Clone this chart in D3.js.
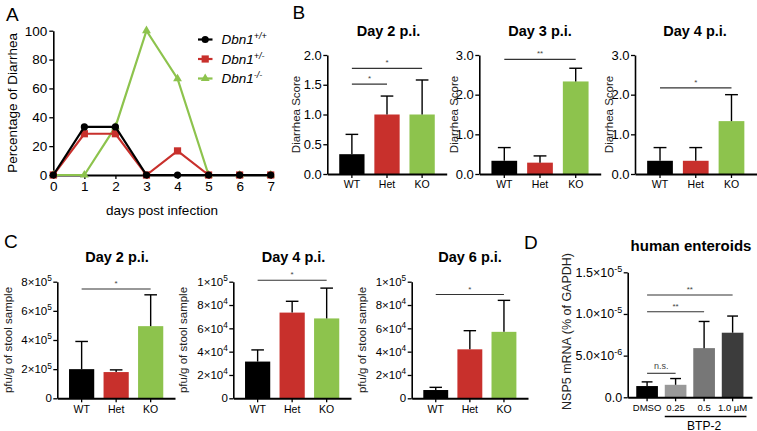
<!DOCTYPE html>
<html><head><meta charset="utf-8">
<script src="https://cdn.jsdelivr.net/npm/d3@7"></script>
<style>
body{margin:0;background:#fff;}
svg{display:block;font-family:"Liberation Sans",Arial,Helvetica,sans-serif;}
</style></head>
<body><svg id="chart" width="757" height="431"></svg>
<script>
// ---------- DATA ----------
// Panel A
const daysA = [0,1,2,3,4,5,6,7];
const pctWT  = [0,33.3,33.3,0,0,0,0,0];
const pctHet = [0,28.6,28.6,0,16.7,0,0,0];
const pctKO  = [0,0,33.3,100,66.7,0,0,0];
const legendA = ["+/+","+/-","-/-"];
const ticksA_y = [0,20,40,60,80,100];

// Panel B (diarrhea score)
const genotypes = ["WT","Het","KO"];
const bDay2Mean = [0.333,1.0,1.0];
const bDay2Err  = [0.333,0.31,0.58];
const bDay3Mean = [0.333,0.286,2.333];
const bDay3Err  = [0.333,0.17,0.333];
const bDay4Mean = [0.333,0.333,1.333];
const bDay4Err  = [0.333,0.333,0.667];

// Panel C (pfu/g of stool)
const cDay2Mean = [2.0e5,1.8e5,4.95e5];
const cDay2Err  = [1.9e5,0.15e5,2.15e5];
const cDay4Mean = [3.15e4,7.35e4,6.85e4];
const cDay4Err  = [1.0e4,0.97e4,2.6e4];
const cDay6Mean = [7.1e3,4.2e4,5.7e4];
const cDay6Err  = [2.3e3,1.6e4,2.7e4];

// Panel D (human enteroids)
const dCats = ["DMSO","0.25","0.5","1.0\u00a0\u00b5M"];
const dMean = [1.35e-6,1.5e-6,5.9e-6,7.75e-6];
const dErr  = [0.5e-6,0.75e-6,3.2e-6,2.0e-6];

const colWT="#000000", colHet="#c8302c", colKO="#8dc34d";
const genoColors=[colWT,colHet,colKO];
const dColors=["#000000","#999999","#777777","#3c3c3c"];

// ---------- DRAW ----------
const svg=d3.select("#chart");

function panelLetter(t,x,y){
  svg.append("text").attr("x",x).attr("y",y).attr("font-size",19).text(t);
}
function styleAxis(g,fs){
  g.selectAll("path.domain").attr("stroke","#000").attr("stroke-width",1.6);
  g.selectAll(".tick line").attr("stroke","#000").attr("stroke-width",1.3);
  g.selectAll(".tick text").attr("font-size",fs).attr("fill","#000")
   .attr("font-family","'Liberation Sans',Arial,sans-serif");
}

// ===== Panel A =====
panelLetter("A",6,21);
const xA=d3.scaleLinear().domain([0,7]).range([53.3,270.7]);
const yA=d3.scaleLinear().domain([0,100]).range([175,30.7]);
const gAy=svg.append("g").attr("transform",`translate(${xA(0)},0)`)
  .call(d3.axisLeft(yA).tickValues(ticksA_y).tickSize(4).tickSizeOuter(0).tickPadding(2));
styleAxis(gAy,13.5);
const gAx=svg.append("g").attr("transform",`translate(0,${yA(0)})`)
  .call(d3.axisBottom(xA).tickValues(daysA).tickFormat(d3.format("d")).tickSize(4).tickSizeOuter(0).tickPadding(2));
styleAxis(gAx,13.5);
gAx.select("path.domain").attr("stroke-width",2.2);

svg.append("text").attr("transform",`translate(17,${(yA(0)+yA(100))/2}) rotate(-90)`)
  .attr("text-anchor","middle").attr("font-size",13.5).text("Percentage of Diarrhea");
svg.append("text").attr("x",162).attr("y",215).attr("text-anchor","middle")
  .attr("font-size",13.5).text("days post infection");

const seriesA=[
  {vals:pctKO,color:colKO,shape:"tri"},
  {vals:pctHet,color:colHet,shape:"sq"},
  {vals:pctWT,color:colWT,shape:"circ"}
];
const lineA=d3.line().x((d,i)=>xA(daysA[i])).y(d=>yA(d));
function marker(g,shape,x,y,color){
  if(shape==="circ") g.append("circle").attr("cx",x).attr("cy",y).attr("r",3.6).attr("fill",color);
  else if(shape==="sq") g.append("rect").attr("x",x-3.6).attr("y",y-3.6).attr("width",7.2).attr("height",7.2).attr("fill",color);
  else g.append("path").attr("d",d3.symbol(d3.symbolTriangle,34)()).attr("transform",`translate(${x},${y})`).attr("fill",color);
}
seriesA.forEach(s=>{
  const g=svg.append("g");
  g.append("path").attr("d",lineA(s.vals)).attr("fill","none").attr("stroke",s.color).attr("stroke-width",2.2);
  s.vals.forEach((v,i)=>marker(g,s.shape,xA(daysA[i]),yA(v),s.color));
});
// legend
const legItems=[{c:colWT,s:"circ"},{c:colHet,s:"sq"},{c:colKO,s:"tri"}];
legItems.forEach((it,i)=>{
  const y=39.5+i*19.5;
  const g=svg.append("g");
  g.append("line").attr("x1",198).attr("x2",212.5).attr("y1",y).attr("y2",y).attr("stroke",it.c).attr("stroke-width",2.2);
  marker(g,it.s,205.2,y,it.c);
  const t=g.append("text").attr("x",221.5).attr("y",y+4.5).attr("font-size",13.5).attr("font-style","italic");
  t.append("tspan").text("Dbn1");
  t.append("tspan").attr("dy",-5).attr("font-size",9).text(legendA[i]);
});

// ===== Generic bar panel =====
function barPanel(o){
  const x=d3.scaleBand().domain(o.cats).range([o.axisX,o.axisEnd])
    .paddingInner(o.pi).paddingOuter(o.po);
  const y=d3.scaleLinear().domain(o.yDomain).range([o.yBottom,o.yTop]);
  const g=svg.append("g");
  // bars
  g.selectAll("rect.bar").data(o.means).enter().append("rect")
    .attr("x",(d,i)=>x(o.cats[i])).attr("width",x.bandwidth())
    .attr("y",d=>y(d)).attr("height",d=>y(0)-y(d)).attr("fill",(d,i)=>o.colors[i]);
  // error bars
  const cw=x.bandwidth()*0.5;
  o.means.forEach((m,i)=>{
    const cx=x(o.cats[i])+x.bandwidth()/2, top=y(m+o.errs[i]);
    g.append("line").attr("x1",cx).attr("x2",cx).attr("y1",y(m)).attr("y2",top).attr("stroke","#000").attr("stroke-width",1.4);
    g.append("line").attr("x1",cx-cw/2).attr("x2",cx+cw/2).attr("y1",top).attr("y2",top).attr("stroke","#000").attr("stroke-width",1.4);
  });
  // axes
  const gy=g.append("g").attr("transform",`translate(${o.axisX},0)`)
    .call(d3.axisLeft(y).tickValues(o.yTicks).tickSize(4).tickSizeOuter(0).tickPadding(1.5));
  styleAxis(gy,o.tickFs);
  if(o.fmt){
    gy.selectAll(".tick text").each(function(d){
      const parts=o.fmt(d); const t=d3.select(this); t.text(null);
      t.append("tspan").text(parts[0]);
      if(parts[1]!==undefined){ t.append("tspan").attr("dy",-o.tickFs*0.42).attr("font-size",o.tickFs*0.72).text(parts[1]); }
    });
  }
  const gx=g.append("g").attr("transform",`translate(0,${o.yBottom})`)
    .call(d3.axisBottom(x).tickSize(4).tickSizeOuter(0).tickPadding(3));
  styleAxis(gx,o.catFs);
  gx.select("path.domain").attr("stroke-width",2);
  // title
  g.append("text").attr("x",o.titleX).attr("y",o.titleY).attr("text-anchor","middle")
    .attr("font-size",o.titleFs).attr("font-weight","bold").text(o.title);
  g.append("text").attr("transform",`translate(${o.yTitleX},${o.yTitleY!==undefined?o.yTitleY:(o.yTop+o.yBottom)/2}) rotate(-90)`)
    .attr("text-anchor","middle").attr("dy","0.35em").attr("font-size",o.yTitleFs).attr("fill","#222").text(o.yTitle);
  // significance
  (o.sigs||[]).forEach(s=>{
    const x1=x(o.cats[s.a])+x.bandwidth()/2, x2=x(o.cats[s.b])+x.bandwidth()/2, yy=y(s.v);
    g.append("line").attr("x1",x1).attr("x2",x2).attr("y1",yy).attr("y2",yy).attr("stroke","#333").attr("stroke-width",1.1);
    g.append("text").attr("x",(x1+x2)/2).attr("y",yy-(s.t==="n.s."?4:3)).attr("text-anchor","middle")
      .attr("font-size",s.t==="n.s."?9:8).attr("fill","#444").text(s.t);
  });
  return {x,y,g};
}

// ===== Panel B =====
panelLetter("B",292.5,18.5);
const bCommon={cats:genotypes,colors:genoColors,pi:0.28,po:0.34,yTop:55,yBottom:174,
  tickFs:13,catFs:10.5,titleFs:14.5,titleY:36,yTitle:"Diarrhea Score",yTitleFs:11.5,fmt:null};
barPanel(Object.assign({},bCommon,{means:bDay2Mean,errs:bDay2Err,yDomain:[0,2],yTicks:[0,0.5,1,1.5,2],
  fmt:d=>[d3.format(".1f")(d)],axisX:327.3,axisEnd:446.7,title:"Day 2 p.i.",titleX:388.5,yTitleX:295.5,
  sigs:[{a:0,b:2,v:1.776,t:"*"},{a:0,b:1,v:1.51,t:"*"}]}));
barPanel(Object.assign({},bCommon,{means:bDay3Mean,errs:bDay3Err,yDomain:[0,3],yTicks:[0,1,2,3],
  axisX:479.3,axisEnd:600.7,title:"Day 3 p.i.",titleX:540,yTitleX:453.5,
  sigs:[{a:0,b:2,v:2.89,t:"**"}]}));
barPanel(Object.assign({},bCommon,{means:bDay4Mean,errs:bDay4Err,yDomain:[0,3],yTicks:[0,1,2,3],
  axisX:635,axisEnd:756.5,title:"Day 4 p.i.",titleX:695,yTitleX:608.5,
  sigs:[{a:0,b:2,v:2.17,t:"*"}]}));

// ===== Panel C =====
panelLetter("C",4,248);
function sciFmt(exp,step){ return d=> d===0?["0"]:[`${Math.round(d/Math.pow(10,exp))}\u00d710`,`${exp}`]; }
const cCommon={cats:genotypes,colors:genoColors,pi:0.27,po:0.34,yTop:281.7,yBottom:398.3,
  tickFs:11.5,catFs:10.5,titleFs:14.5,titleY:262,yTitle:"pfu/g of stool sample",yTitleFs:11.5};
barPanel(Object.assign({},cCommon,{means:cDay2Mean,errs:cDay2Err,yDomain:[0,8e5],yTicks:[0,2e5,4e5,6e5,8e5],
  fmt:d=>d===0?["0"]:[`${d/1e5}\u00d710`,"5"],axisX:57.3,axisEnd:175,title:"Day 2 p.i.",titleX:117,yTitleX:8,
  sigs:[{a:0,b:2,v:7.5e5,t:"*"}]}));
const fmtC4=d=>d===0?["0"]:(d>=1e5?[`${d/1e5}\u00d710`,"5"]:[`${d/1e4}\u00d710`,"4"]);
barPanel(Object.assign({},cCommon,{means:cDay4Mean,errs:cDay4Err,yDomain:[0,1e5],yTicks:[0,2e4,4e4,6e4,8e4,1e5],
  fmt:fmtC4,axisX:233.3,axisEnd:351,title:"Day 4 p.i.",titleX:293.5,yTitleX:182.5,
  sigs:[{a:0,b:2,v:1.012e5,t:"*"}]}));
barPanel(Object.assign({},cCommon,{means:cDay6Mean,errs:cDay6Err,yDomain:[0,1e5],yTicks:[0,2e4,4e4,6e4,8e4,1e5],
  fmt:fmtC4,axisX:411.7,axisEnd:528,title:"Day 6 p.i.",titleX:470,yTitleX:361.5,
  sigs:[{a:0,b:2,v:0.89e5,t:"*"}]}));

// ===== Panel D =====
panelLetter("D",524,248.5);
const fmtD=d=>d===0?["0.0"]:(d>=1e-5?[`${d3.format(".1f")(d/1e-5)}\u00d710`,"-5"]:[`${d3.format(".1f")(d/1e-6)}\u00d710`,"-6"]);
const pD=barPanel({cats:dCats,colors:dColors,means:dMean,errs:dErr,pi:0.24,po:0.3,yTop:272.3,yBottom:397.3,
  yDomain:[0,1.5e-5],yTicks:[0,5e-6,1e-5,1.5e-5],fmt:fmtD,tickFs:12.5,catFs:9.5,
  axisX:627.7,axisEnd:752,title:"human enteroids",titleX:691,titleY:251,titleFs:15,
  yTitle:"NSP5 mRNA (% of GAPDH)",yTitleX:567,yTitleY:331.5,yTitleFs:12.5,
  sigs:[{a:0,b:3,v:1.228e-5,t:"**"},{a:0,b:2,v:1.027e-5,t:"**"},{a:0,b:1,v:2.88e-6,t:"n.s."}]});
// BTP-2 bracket
const bx1=pD.x(dCats[1]), bx2=pD.x(dCats[3])+pD.x.bandwidth();
svg.append("line").attr("x1",bx1).attr("x2",bx2+3).attr("y1",416.5).attr("y2",416.5).attr("stroke","#000").attr("stroke-width",1.6);
svg.append("text").attr("x",(bx1+bx2)/2).attr("y",429.5).attr("text-anchor","middle").attr("font-size",12).text("BTP-2");
</script></body></html>
